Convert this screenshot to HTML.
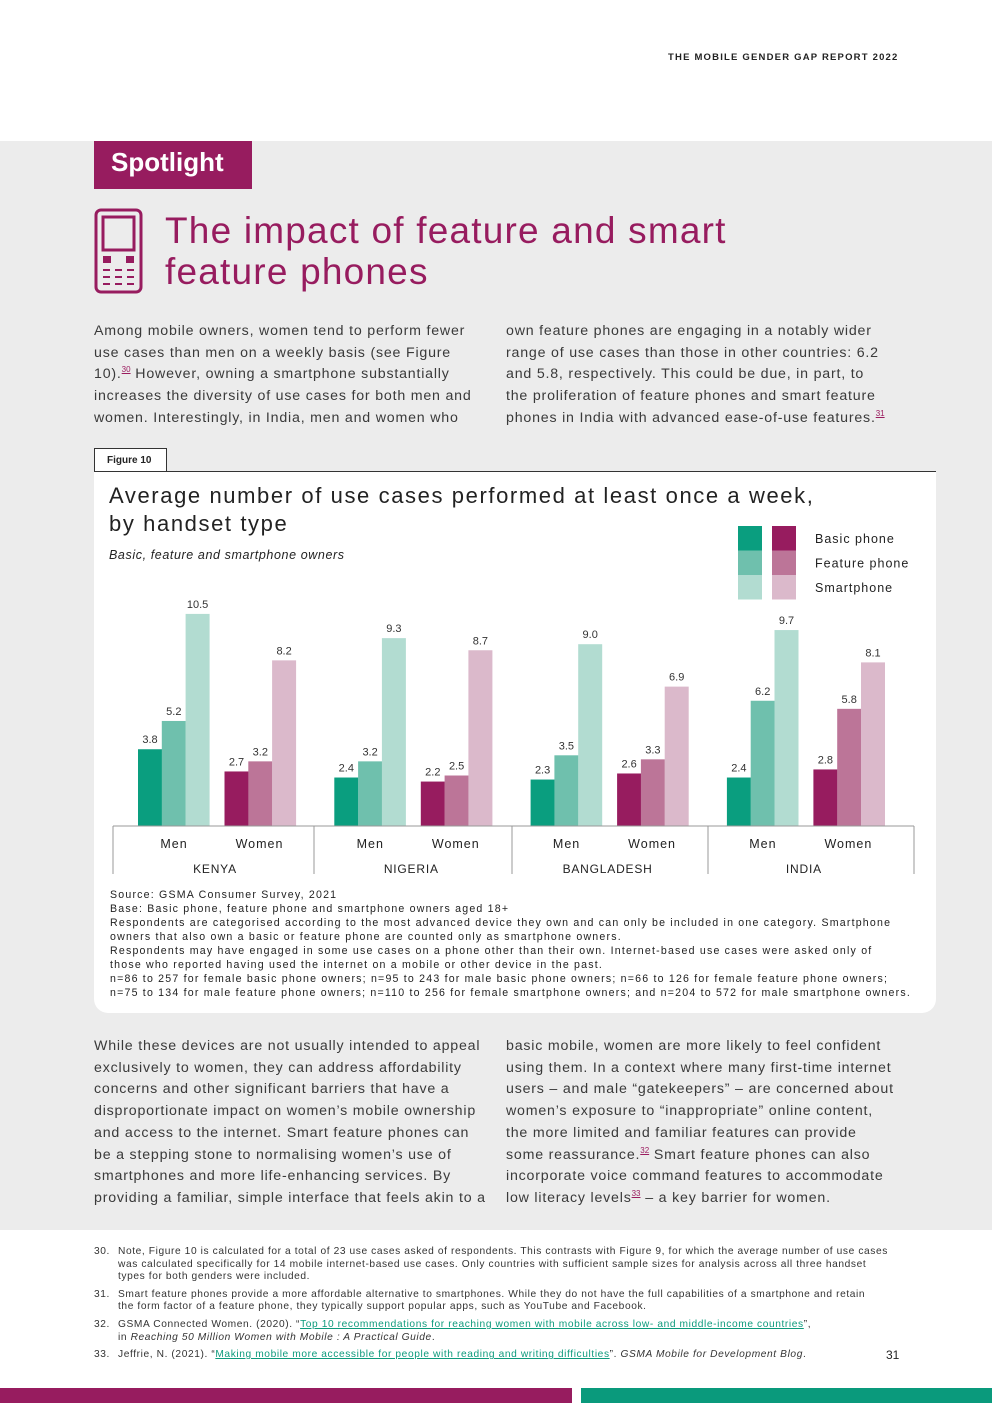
<!DOCTYPE html>
<html><head><meta charset="utf-8"><style>
*{margin:0;padding:0;box-sizing:border-box}
body{width:992px;height:1403px;position:relative;background:#fff;font-family:"Liberation Sans",sans-serif;color:#333;overflow:hidden}
.abs{position:absolute}
.p{font-size:14.2px;line-height:21.7px;color:#3a3a3a;white-space:nowrap;letter-spacing:0.8px}
.fn{font-size:10.2px;line-height:12.6px;color:#333;white-space:nowrap;letter-spacing:0.6px}
.src{font-size:10.6px;line-height:14px;color:#222;white-space:nowrap;letter-spacing:1.2px}
sup{font-size:8px;color:#9b1c5f;text-decoration:underline;line-height:0;vertical-align:6px;letter-spacing:0}
a{color:#0d9a7c}
</style></head><body>
<div class="abs" style="left:668px;top:52px;font-size:9.5px;font-weight:bold;letter-spacing:1.2px;color:#222">THE MOBILE GENDER GAP REPORT 2022</div>
<div class="abs" style="left:0;top:141px;width:992px;height:1089px;background:#ececec"></div>
<div class="abs" style="left:94px;top:141px;width:158px;height:48px;background:#971c5f;color:#fff;font-size:26px;font-weight:bold;padding:6px 0 0 17px">Spotlight</div>
<svg class="abs" style="left:94px;top:208px" width="50" height="86" viewBox="0 0 50 86">
<rect x="2" y="2" width="45" height="82" rx="5" fill="none" stroke="#971c5f" stroke-width="3"/>
<rect x="9" y="9" width="31" height="33" fill="none" stroke="#971c5f" stroke-width="3"/>
<g fill="#971c5f"><rect x="9" y="48" width="8" height="7"/><rect x="32" y="48" width="8" height="7"/>
<rect x="9" y="61" width="7" height="2"/><rect x="21" y="61" width="7" height="2"/><rect x="33" y="61" width="7" height="2"/>
<rect x="9" y="68" width="7" height="2"/><rect x="21" y="68" width="7" height="2"/><rect x="33" y="68" width="7" height="2"/>
<rect x="9" y="75" width="7" height="2"/><rect x="21" y="75" width="7" height="2"/><rect x="33" y="75" width="7" height="2"/></g></svg>
<div class="abs" style="left:165px;top:210px;font-size:37px;line-height:41px;color:#971c5f;letter-spacing:1.2px">The impact of feature and smart<br>feature phones</div>
<div class="abs p" style="left:94px;top:321px">Among mobile owners, women tend to perform fewer<br>use cases than men on a weekly basis (see Figure<br>10).<sup>30</sup> However, owning a smartphone substantially<br>increases the diversity of use cases for both men and<br>women. Interestingly, in India, men and women who</div>
<div class="abs p" style="left:506px;top:321px">own feature phones are engaging in a notably wider<br>range of use cases than those in other countries: 6.2<br>and 5.8, respectively. This could be due, in part, to<br>the proliferation of feature phones and smart feature<br>phones in India with advanced ease-of-use features.<sup>31</sup></div>
<div class="abs" style="left:94px;top:448px;width:73px;height:24px;border:1px solid #333;border-bottom:none;background:#fff;font-size:10px;font-weight:bold;padding:6px 0 0 12px;color:#222">Figure 10</div>
<div class="abs" style="left:94px;top:471px;width:842px;height:1px;background:#333"></div>
<div class="abs" style="left:94px;top:472px;width:842px;height:541px;background:#fff;border-radius:0 0 14px 14px"></div>
<div class="abs" style="left:109px;top:482px;font-size:22px;line-height:28px;color:#222;letter-spacing:1.6px;white-space:nowrap">Average number of use cases performed at least once a week,<br>by handset type</div>
<div class="abs" style="left:109px;top:548px;font-size:12.5px;font-style:italic;color:#222;letter-spacing:0.6px">Basic, feature and smartphone owners</div>
<svg class="abs" id="chart" style="left:0;top:0" width="992" height="900"></svg>
<div class="abs src" style="left:110px;top:888px">Source: GSMA Consumer Survey, 2021<br>Base: Basic phone, feature phone and smartphone owners aged 18+<br>Respondents are categorised according to the most advanced device they own and can only be included in one category. Smartphone<br>owners that also own a basic or feature phone are counted only as smartphone owners.<br>Respondents may have engaged in some use cases on a phone other than their own. Internet-based use cases were asked only of<br>those who reported having used the internet on a mobile or other device in the past.<br>n=86 to 257 for female basic phone owners; n=95 to 243 for male basic phone owners; n=66 to 126 for female feature phone owners;<br>n=75 to 134 for male feature phone owners; n=110 to 256 for female smartphone owners; and n=204 to 572 for male smartphone owners.</div>
<div class="abs p" style="left:94px;top:1036px">While these devices are not usually intended to appeal<br>exclusively to women, they can address affordability<br>concerns and other significant barriers that have a<br>disproportionate impact on women’s mobile ownership<br>and access to the internet. Smart feature phones can<br>be a stepping stone to normalising women’s use of<br>smartphones and more life-enhancing services. By<br>providing a familiar, simple interface that feels akin to a</div>
<div class="abs p" style="left:506px;top:1036px">basic mobile, women are more likely to feel confident<br>using them. In a context where many first-time internet<br>users – and male “gatekeepers” – are concerned about<br>women’s exposure to “inappropriate” online content,<br>the more limited and familiar features can provide<br>some reassurance.<sup>32</sup> Smart feature phones can also<br>incorporate voice command features to accommodate<br>low literacy levels<sup>33</sup> – a key barrier for women.</div>
<div class="abs fn" style="left:94px;top:1246px">
<div style="display:flex"><span style="width:24px">30.</span><span>Note, Figure 10 is calculated for a total of 23 use cases asked of respondents. This contrasts with Figure 9, for which the average number of use cases<br>was calculated specifically for 14 mobile internet-based use cases. Only countries with sufficient sample sizes for analysis across all three handset<br>types for both genders were included.</span></div>
<div style="display:flex;margin-top:5px"><span style="width:24px">31.</span><span>Smart feature phones provide a more affordable alternative to smartphones. While they do not have the full capabilities of a smartphone and retain<br>the form factor of a feature phone, they typically support popular apps, such as YouTube and Facebook.</span></div>
<div style="display:flex;margin-top:5px"><span style="width:24px">32.</span><span>GSMA Connected Women. (2020). “<a style="text-decoration:underline">Top 10 recommendations for reaching women with mobile across low- and middle-income countries</a>”,<br>in <i>Reaching 50 Million Women with Mobile : A Practical Guide</i>.</span></div>
<div style="display:flex;margin-top:5px"><span style="width:24px">33.</span><span>Jeffrie, N. (2021). “<a style="text-decoration:underline">Making mobile more accessible for people with reading and writing difficulties</a>”. <i>GSMA Mobile for Development Blog</i>.</span></div>
</div>
<div class="abs" style="left:886px;top:1348px;font-size:12px;color:#222">31</div>
<div class="abs" style="left:0;top:1388px;width:572px;height:15px;background:#971c5f"></div>
<div class="abs" style="left:581px;top:1388px;width:411px;height:15px;background:#0a9a7c"></div>
<script>
const countries=["KENYA","NIGERIA","BANGLADESH","INDIA"];
const genders=["Men","Women"];
const seriesNames=["Basic phone","Feature phone","Smartphone"];
const menBasic=[3.8,2.4,2.3,2.4];
const menFeature=[5.2,3.2,3.5,6.2];
const menSmart=[10.5,9.3,9.0,9.7];
const womenBasic=[2.7,2.2,2.6,2.8];
const womenFeature=[3.2,2.5,3.3,5.8];
const womenSmart=[8.2,8.7,6.9,8.1];
const svg=document.getElementById('chart');
const NS='http://www.w3.org/2000/svg';
const base=826, unit=20.2;
const y=v=>base-v*unit;
const countryX=i=>138+i*196.3;
const colors=[["#0a9e7f","#6fc0ad","#b2dcd1"],["#971c5f","#bc7598","#dbb9cb"]];
function mk(t,a){const e=document.createElementNS(NS,t);for(const k in a)e.setAttribute(k,a[k]);svg.appendChild(e);return e;}
const data=[[menBasic,menFeature,menSmart],[womenBasic,womenFeature,womenSmart]];
countries.forEach((c,i)=>{
  genders.forEach((g,gi)=>{
    const gx=countryX(i)+gi*86.5;
    data[gi].forEach((arr,si)=>{
      const v=arr[i];
      const r=mk('rect',{x:gx+si*23.8,y:y(v),width:24,height:v*unit,fill:colors[gi][si]});
      
      
      const t=mk('text',{x:gx+si*23.8+12,y:y(v)-6,'text-anchor':'middle','font-size':'11','font-family':'Liberation Sans Narrow, Liberation Sans, sans-serif',fill:'#333'});
      t.textContent=v.toFixed(1);
      
      
    });
    const gl=mk('text',{x:gx+36+(gi?-1:0),y:848,'text-anchor':'middle','font-size':'12.5','letter-spacing':'1','font-family':'Liberation Sans, sans-serif',fill:'#222'});
    gl.textContent=g;
    
    
  });
  const cl=mk('text',{x:countryX(i)+77,y:873,'text-anchor':'middle','font-size':'12','letter-spacing':'0.8','font-family':'Liberation Sans, sans-serif',fill:'#222'});
  cl.textContent=c;
  
  
});
const ax=mk('line',{x1:113,y1:base,x2:914,y2:base,stroke:'#999','stroke-width':1});


[113,314,512,708,914].forEach(x=>{
  const l=mk('line',{x1:x,y1:base,x2:x,y2:874,stroke:'#999','stroke-width':1});
  
  
});
seriesNames.forEach((s,si)=>{
  [0,1].forEach(gi=>{
    const r=mk('rect',{x:738+gi*34,y:526+si*24.5,width:24,height:24.5,fill:colors[gi][si]});
    
    
  });
  const t=mk('text',{x:815,y:543+si*24.5,'font-size':'12.5','letter-spacing':'1','font-family':'Liberation Sans, sans-serif',fill:'#222'});
  t.textContent=s;
  
  
});
</script>
</body></html>
